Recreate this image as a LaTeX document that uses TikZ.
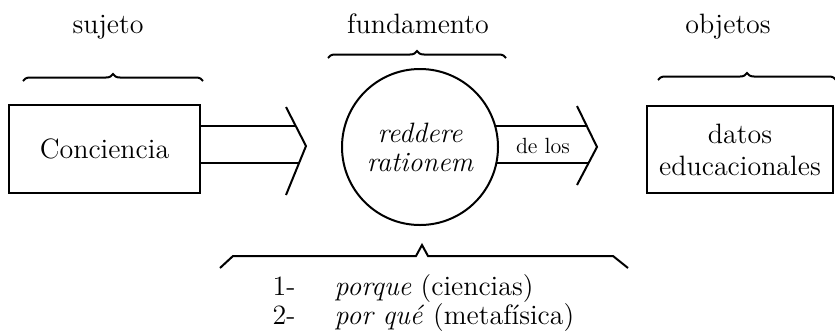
\documentclass[tikz,border=0pt]{standalone}
\usepackage{tikz}
\usetikzlibrary{calc,decorations.pathreplacing}

\begin{document}
\begin{tikzpicture}[x=0.5pt,y=-0.5pt,line width=1pt,
  txt/.style={font=\fontsize{14}{16}\selectfont},
  caja/.style={draw,rectangle,outer sep=0pt,align=center,txt},
  llave/.style={decorate,decoration={brace,amplitude=3.5pt}}]
\useasboundingbox (0,0) rectangle (835,333);
% titulos
\node[txt,anchor=base] (suj) at (108,33) {sujeto};
\node[txt,anchor=base] (fun) at (418,33) {fundamento};
\node[txt,anchor=base] (obj) at (728,33) {objetos};
\draw[llave] (23,81) -- (203,81);
\draw[llave] (328,58) -- (506,58);
\draw[llave] (658,80) -- (836,80);
% nodos
\node[caja,minimum width=95.5pt,minimum height=44pt] (conc) at (104.5,149) {Conciencia};
\node[draw,circle,outer sep=0pt,minimum size=78pt,align=center,font=\fontsize{14}{14.5}\selectfont\itshape] (razon) at (420,147) {reddere\\rationem};
\node[caja,minimum width=93pt,minimum height=43.5pt] (datos) at (740,149.5) {datos\\educacionales};
% flecha 1
\coordinate (f1s) at (286,107);
\coordinate (f1p) at (306,146);
\coordinate (f1i) at (286,195);
\coordinate (f1a) at (296,126);
\coordinate (f1b) at (299,163);
\draw (conc.east |- f1a) -- (f1a);
\draw (conc.east |- f1b) -- (f1b);
\draw (f1s) -- (f1p) -- (f1i);
% flecha 2
\coordinate (f2s) at (577,106);
\coordinate (f2p) at (597,147);
\coordinate (f2i) at (577,185);
\coordinate (f2a) at (586,125);
\coordinate (f2b) at (588.5,163);
\draw (razon.16) -- (razon.16 -| f2a);
\draw (razon.-12) -- (razon.-12 -| f2b);
\draw (f2s) -- (f2p) -- (f2i);
\node[font=\fontsize{11}{12}\selectfont] (delos) at (543,146) {de los};
% llave de abajo
\draw (220,268) -- (233,256) -- (416,256) -- (422,245) -- (428,256) -- (613,256) -- (628,268);
\node[txt,anchor=base west] (n1) at (265,295) {1-};
\node[txt,anchor=base west] (r1) at (327,295) {\textit{porque} (ciencias)};
\node[txt,anchor=base west] (n2) at (265,324) {2-};
\node[txt,anchor=base west] (r2) at (327,324) {\textit{por qué} (metafísica)};
\end{tikzpicture}
\end{document}
